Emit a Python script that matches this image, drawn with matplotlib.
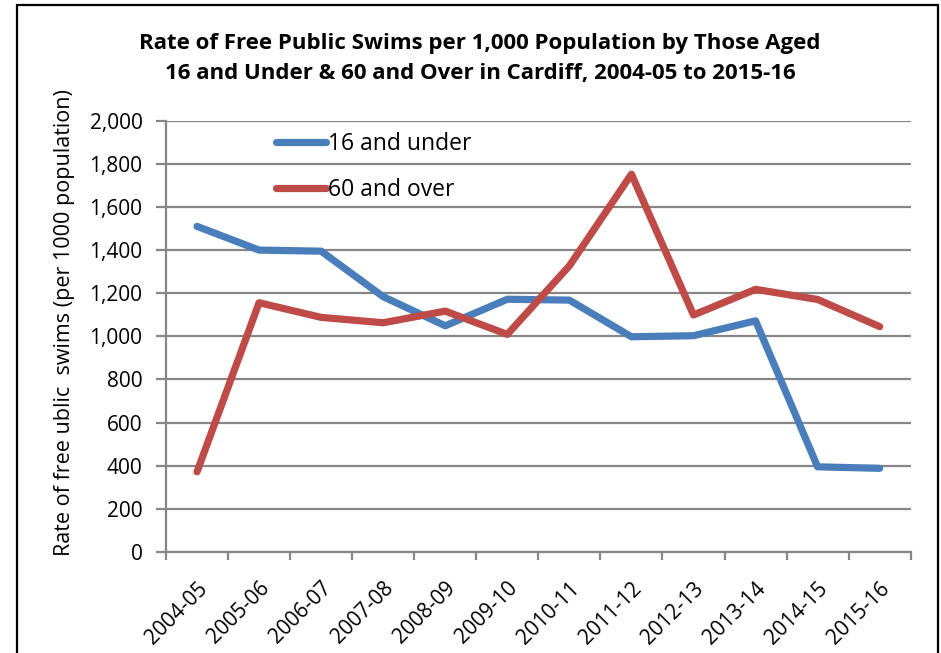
import matplotlib
matplotlib.use("Agg")
import matplotlib.pyplot as plt
from matplotlib.patches import Rectangle
from matplotlib.transforms import ScaledTranslation

seasons = ["2004-05", "2005-06", "2006-07", "2007-08", "2008-09", "2009-10",
           "2010-11", "2011-12", "2012-13", "2013-14", "2014-15", "2015-16"]
under_16 = [1510, 1400, 1395, 1184, 1049, 1172, 1168, 998, 1003, 1072, 395, 388]
over_60 = [372, 1156, 1088, 1063, 1117, 1009, 1327, 1752, 1099, 1218, 1171, 1045]
y_ticks = [0, 200, 400, 600, 800, 1000, 1200, 1400, 1600, 1800, 2000]

BLUE = "#4A7EBB"
RED = "#BE4B48"
GRID = "#868686"
FONT = "Open Sans"

plt.rcParams["font.family"] = [FONT, "DejaVu Sans"]

W, H = 941, 653
fig = plt.figure(figsize=(W / 100, H / 100), dpi=100)
ax = fig.add_axes([166 / W, 1 - 552 / H, (910.7 - 166) / W, (552 - 120.7) / H])

x = list(range(len(seasons)))
ax.plot(x, under_16, color=BLUE, lw=5.2, solid_capstyle="round",
        solid_joinstyle="round", label="16 and under", zorder=3)
ax.plot(x, over_60, color=RED, lw=5.2, solid_capstyle="round",
        solid_joinstyle="round", label="60 and over", zorder=3)

ax.set_xlim(-0.5, len(seasons) - 0.5)
ax.set_ylim(0, 2000)
ax.set_yticks(y_ticks)
ax.set_yticklabels([f"{v:,}" for v in y_ticks], fontsize=15)
ax.yaxis.grid(True, color=GRID, lw=1.6)
ax.set_axisbelow(True)

for s in ("top", "right"):
    ax.spines[s].set_visible(False)
for s in ("left", "bottom"):
    ax.spines[s].set_color(GRID)
    ax.spines[s].set_linewidth(1.6)

ax.tick_params(axis="y", length=7, width=1.6, color=GRID, pad=10)

# category labels at centres, tick marks at category boundaries
ax.set_xticks(x)
ax.set_xticklabels(seasons, fontsize=15, rotation=45, ha="right",
                   va="center", rotation_mode="anchor")
ax.tick_params(axis="x", which="major", length=0, pad=24)
ax.set_xticks([i - 0.5 for i in range(len(seasons) + 1)], minor=True)
ax.tick_params(axis="x", which="minor", length=6, width=1.6, color=GRID)
shift = ScaledTranslation(7 / 100, 0, fig.dpi_scale_trans)
for lbl in ax.get_xticklabels():
    lbl.set_transform(lbl.get_transform() + shift)

ax.legend(loc="upper left", bbox_to_anchor=(0.135, 0.995), frameon=False,
          fontsize=16.5, handlelength=2.2, handletextpad=0.1, labelspacing=0.95,
          borderaxespad=0)

title_lines = ["Rate of Free Public Swims per 1,000 Population by Those Aged",
               "16 and Under & 60 and Over in Cardiff, 2004-05 to 2015-16"]
for line, ypix in zip(title_lines, (44, 74)):
    fig.text(480 / W, 1 - ypix / H, line, ha="center", va="center",
             fontsize=16, fontweight="bold")

fig.text(65 / W, 1 - 323 / H, "Rate of free ublic  swims (per 1000 population)",
         rotation=90, ha="center", va="center", fontsize=15.5)

fig.patches.append(Rectangle((17 / W, -0.05), (938 - 17) / W, 1.05 - 5 / H,
                             transform=fig.transFigure, fill=False,
                             edgecolor="black", lw=1.6, zorder=10))

fig.savefig("out.png", dpi=100)
